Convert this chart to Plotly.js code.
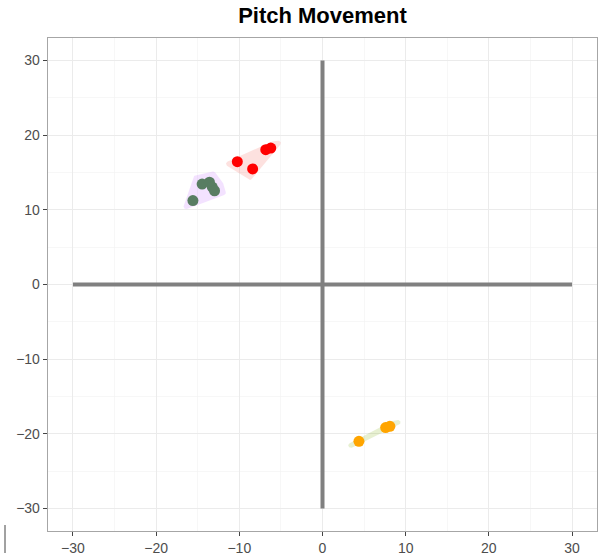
<!DOCTYPE html>
<html>
<head>
<meta charset="utf-8">
<script src="https://cdn.plot.ly/plotly-3.0.1.min.js"></script>
<style>html,body{margin:0;padding:0;background:#fff;}#chart{width:606px;height:558px;}</style>
</head>
<body>
<div id="chart"></div>
<script>
// ---- data ----
const redX = [-10.24, -8.40, -6.82, -6.22];
const redY = [16.44, 15.47, 18.05, 18.27];
const greenX = [-15.58, -14.47, -13.59, -13.25, -12.98];
const greenY = [11.23, 13.44, 13.70, 13.05, 12.55];
const orangeX = [4.38, 7.59, 8.10];
const orangeY = [-20.99, -19.16, -18.98];
const crossSpan = [-30, 30];
const crossZero = [0, 0];
const tickVals = [-30, -20, -10, 0, 10, 20, 30];
const tickText = tickVals.map(v => (v < 0 ? '\u2212' + Math.abs(v) : String(v)));
const axisRange = [-33, 33];

// ---- layout geometry ----
const W = 606, H = 558;
const M = {l: 48, r: 9, t: 38, b: 27};
const plotW = W - M.l - M.r, plotH = H - M.t - M.b;
const sx = plotW / (axisRange[1] - axisRange[0]);
const sy = plotH / (axisRange[1] - axisRange[0]);

function convexHull(p) {
  p = p.slice().sort((a, b) => a[0] - b[0] || a[1] - b[1]);
  const cross = (o, a, b) => (a[0] - o[0]) * (b[1] - o[1]) - (a[1] - o[1]) * (b[0] - o[0]);
  const lower = [], upper = [];
  for (const q of p) { while (lower.length >= 2 && cross(lower[lower.length - 2], lower[lower.length - 1], q) <= 0) lower.pop(); lower.push(q); }
  for (let i = p.length - 1; i >= 0; i--) { const q = p[i]; while (upper.length >= 2 && cross(upper[upper.length - 2], upper[upper.length - 1], q) <= 0) upper.pop(); upper.push(q); }
  upper.pop(); lower.pop();
  return lower.concat(upper);
}

function encircle(xs, ys, push, rad) {
  const pts = xs.map((x, i) => [x * sx, ys[i] * sy]);
  const cx = pts.reduce((s, p) => s + p[0], 0) / pts.length;
  const cy = pts.reduce((s, p) => s + p[1], 0) / pts.length;
  const cloud = [];
  pts.forEach(([px, py]) => {
    const dx = px - cx, dy = py - cy, d = Math.hypot(dx, dy) || 1;
    const qx = px + push * dx / d, qy = py + push * dy / d;
    for (let k = 0; k < 36; k++) {
      const a = 2 * Math.PI * k / 36;
      cloud.push([qx + rad * Math.cos(a), qy + rad * Math.sin(a)]);
    }
  });
  const h = convexHull(cloud);
  h.push(h[0]);
  return {x: h.map(p => p[0] / sx), y: h.map(p => p[1] / sy)};
}

const groups = [
  {x: greenX, y: greenY, pt: '#587d62', fill: 'rgba(199,124,255,0.22)'},
  {x: redX, y: redY, pt: '#ff0000', fill: 'rgba(248,118,109,0.22)'},
  {x: orangeX, y: orangeY, pt: '#ffa500', fill: 'rgba(124,174,0,0.18)'}
];

const traces = [];
traces.push({x: crossSpan, y: crossZero, mode: 'lines', line: {color: '#808080', width: 4}, hoverinfo: 'skip', showlegend: false});
traces.push({x: crossZero, y: crossSpan, mode: 'lines', line: {color: '#808080', width: 4}, hoverinfo: 'skip', showlegend: false});
groups.forEach(g => {
  const h = encircle(g.x, g.y, 9, 2.5);
  traces.push({x: h.x, y: h.y, mode: 'lines', fill: 'toself', fillcolor: g.fill, line: {width: 0, color: 'rgba(0,0,0,0)'}, hoverinfo: 'skip', showlegend: false});
});
groups.forEach(g => {
  traces.push({x: g.x, y: g.y, mode: 'markers', marker: {color: g.pt, size: 11, line: {width: 0}}, showlegend: false});
});

const axisCommon = {
  range: axisRange,
  tickmode: 'array', tickvals: tickVals, ticktext: tickText,
  showgrid: true, gridcolor: '#ebebeb', gridwidth: 1,
  minor: {dtick: 5, tick0: 0, showgrid: true, gridcolor: '#f2f2f2', gridwidth: 0.6, ticks: ''},
  zeroline: false,
  showline: true, mirror: true, linecolor: '#a6a6a6', linewidth: 1.3,
  ticks: 'outside', ticklen: 4, tickwidth: 1, tickcolor: '#444',
  tickfont: {family: 'Liberation Sans, Arial, sans-serif', size: 14, color: '#4d4d4d'},
  fixedrange: true
};

const layout = {
  width: W, height: H,
  margin: {l: M.l, r: M.r, t: M.t, b: M.b, pad: 0},
  paper_bgcolor: '#fff', plot_bgcolor: '#fff',
  title: {text: '<b>Pitch Movement</b>', font: {family: 'Liberation Sans, Arial, sans-serif', size: 22, color: '#000'},
          x: 0.5, xref: 'paper', xanchor: 'center', y: 1 - 15.6 / H, yref: 'container', yanchor: 'middle'},
  xaxis: Object.assign({}, axisCommon),
  yaxis: Object.assign({}, axisCommon),
  showlegend: false,
  shapes: [
    {type: 'line', xref: 'paper', yref: 'paper', x0: (5 - M.l) / plotW, x1: (5 - M.l) / plotW,
     y0: (H - M.b - 525) / plotH, y1: (H - M.b - 553) / plotH, line: {color: '#444', width: 1}}
  ]
};

Plotly.newPlot('chart', traces, layout, {displayModeBar: false, staticPlot: true});
</script>
</body>
</html>
